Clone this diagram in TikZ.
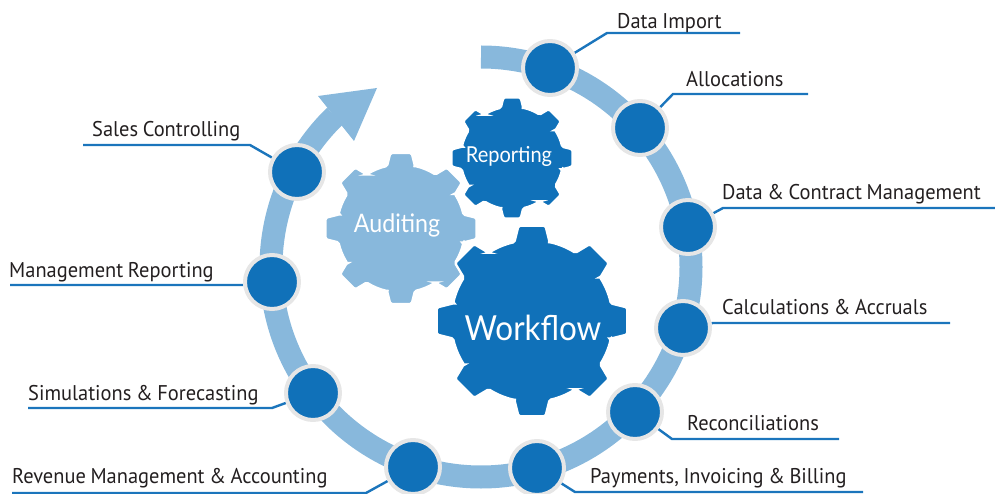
\documentclass[tikz,border=0pt]{standalone}
\usepackage{fontspec}
\setmainfont{PT Sans}[FakeStretch=0.96, WordSpace=0.85]
\newfontfamily\gearfont{Lato}[FakeStretch=0.91]
\definecolor{dkblue}{RGB}{16,113,185}
\definecolor{ltblue}{RGB}{136,184,220}
\definecolor{leadblue}{RGB}{27,117,188}
\definecolor{txt}{RGB}{35,31,32}
\definecolor{rim}{RGB}{230,230,230}
\pgfdeclarelayer{bg}
\pgfsetlayers{bg,main}
\tikzset{
  ringband/.style={ltblue, line width=23pt},
  dot/.style={circle, fill=dkblue, draw=rim, line width=4pt, minimum size=54pt, inner sep=0pt},
  lead/.style={leadblue, line width=2.4pt},
  lbl/.style={anchor=base west, inner sep=0pt, text=txt, font=\fontsize{21.3}{25}\selectfont},
  geartxt/.style={anchor=base, inner sep=0pt, text=white},
  gearbody/.style={draw=white, line width=2pt, rounded corners=1.5pt}
}
\newcommand\mygear[4]{%
  \begin{scope}[shift={(#1,#2)}, scale=#3]
    \filldraw[gearbody, fill=#4] (-12.5:0.84)
      \foreach \i in {0,...,7}{
        -- ({\i*45-12.5}:0.84) -- ({\i*45-8}:1) -- ({\i*45+8}:1) -- ({\i*45+12.5}:0.84)
        arc[start angle={\i*45+12.5}, end angle={\i*45+32.5}, radius=0.84]
      } -- cycle;
  \end{scope}}
\begin{document}
\begin{tikzpicture}[x=1pt,y=1pt]
\useasboundingbox (0,0) rectangle (995,-494);
% circles on the ring
\node[dot] (n1) at (550,-68) {};
\node[dot] (n2) at (640,-128) {};
\node[dot] (n3) at (688,-227) {};
\node[dot] (n4) at (683,-328) {};
\node[dot] (n5) at (635,-412) {};
\node[dot] (n6) at (537,-468) {};
\node[dot] (n7) at (413,-467) {};
\node[dot] (n8) at (313,-393) {};
\node[dot] (n9) at (272,-282) {};
\node[dot] (n10) at (297,-172) {};
% labels
\node[lbl] (t1) at (617,-29) {Data Import};
\node[lbl] (t2) at (686,-87) {Allocations};
\node[lbl] (t3) at (722,-200) {Data \& Contract Management};
\node[lbl] (t4) at (722,-314) {Calculations \& Accruals};
\node[lbl] (t5) at (687,-430) {Reconciliations};
\node[lbl] (t6) at (590,-483) {Payments, Invoicing \& Billing};
\node[lbl] (t7) at (12,-483) {Revenue Management \& Accounting};
\node[lbl] (t8) at (28,-400) {Simulations \& Forecasting};
\node[lbl] (t9) at (9,-277) {Management Reporting};
\node[lbl] (t10) at (92,-137) {Sales Controlling};
% bend and end points of the leaders
\coordinate (b1) at (607,-33);  \coordinate (e1) at (740,-33);
\coordinate (b2) at (673,-94);  \coordinate (e2) at (808,-94);
\coordinate (b3) at (723,-208); \coordinate (e3) at (995,-208);
\coordinate (b4) at (713,-323); \coordinate (e4) at (950,-323);
\coordinate (b5) at (672,-439); \coordinate (e5) at (839,-439);
\coordinate (b6) at (575,-492); \coordinate (e6) at (863,-492);
\coordinate (b7) at (366,-493); \coordinate (e7) at (12,-493);
\coordinate (b8) at (272,-408); \coordinate (e8) at (28,-408);
\coordinate (b9) at (243,-285); \coordinate (e9) at (10,-285);
\coordinate (b10) at (250,-145); \coordinate (e10) at (83,-145);
% gear texts
\node[geartxt, font=\gearfont\fontsize{22}{26}\selectfont] (gr) at (509,-162.7) {Reporting};
\node[geartxt, font=\gearfont\fontsize{25.5}{29}\selectfont] (ga) at (397,-232.7) {Auditing};
\node[geartxt, font=\gearfont\fontsize{34.5}{40}\selectfont] (gw) at (533,-340) {Workflow};
\begin{pgfonlayer}{bg}
  % ring with arrow
  \draw[ringband] (481,-267) ++(90:210) arc[start angle=90, end angle=-226, radius=210];
  \fill[ltblue] (318,-96) -- (377,-88) -- (354,-141) -- cycle;
  % gears
  \mygear{401}{-228.5}{76}{ltblue}
  \mygear{512}{-158}{61}{dkblue}
  \mygear{532}{-321}{96}{dkblue}
  % leaders
  \foreach \k in {1,...,10}{
    \draw[lead] (n\k) -- (b\k) -- (e\k);
  }
\end{pgfonlayer}
\end{tikzpicture}
\end{document}
